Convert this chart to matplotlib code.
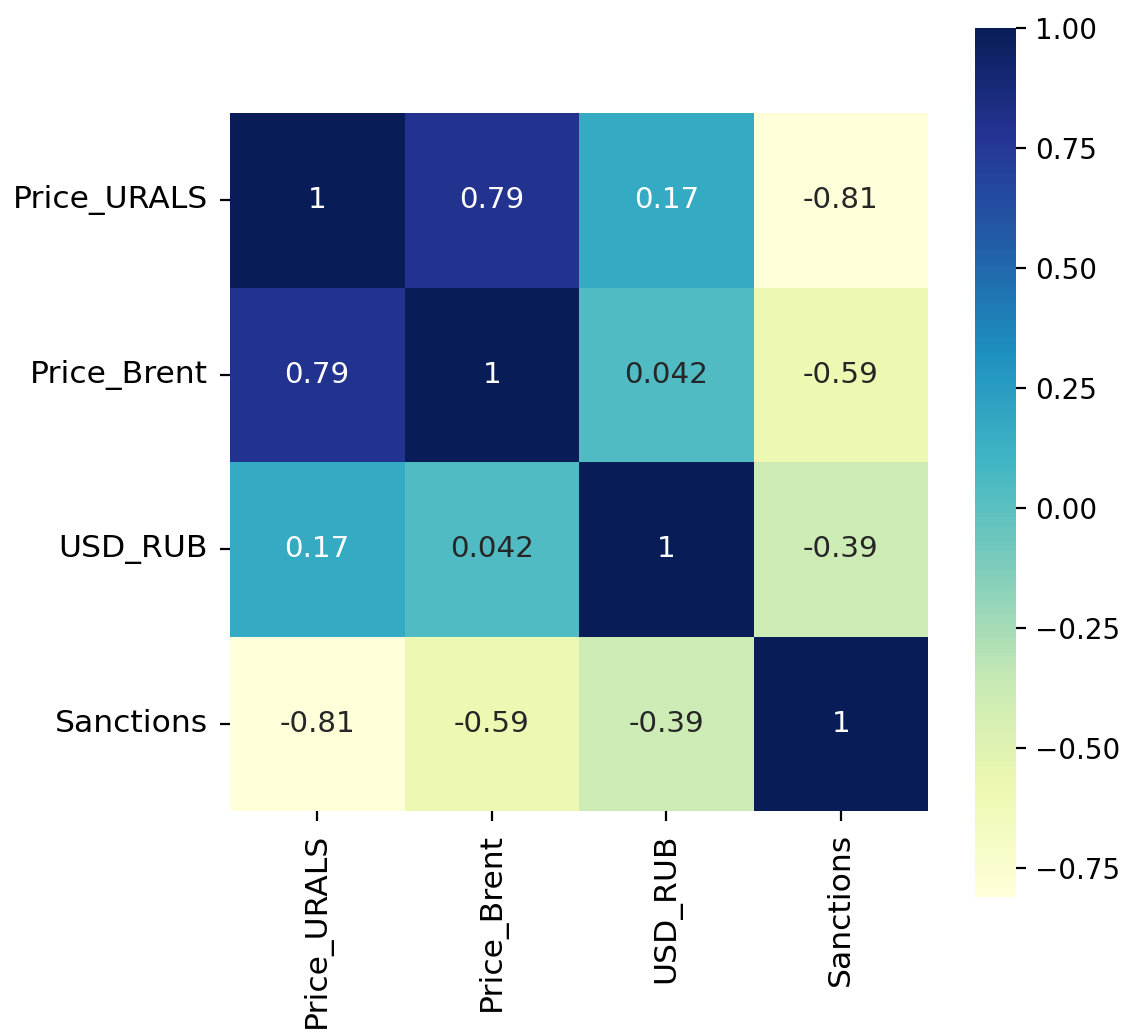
import matplotlib
matplotlib.use("Agg")
import matplotlib.pyplot as plt
import seaborn as sns
import numpy as np
import pandas as pd

labels = ["Price_URALS", "Price_Brent", "USD_RUB", "Sanctions"]
row_urals = [1.0, 0.79, 0.17, -0.81]
row_brent = [0.79, 1.0, 0.042, -0.59]
row_usd = [0.17, 0.042, 1.0, -0.39]
row_sanc = [-0.81, -0.59, -0.39, 1.0]

corr = pd.DataFrame([row_urals, row_brent, row_usd, row_sanc], index=labels, columns=labels)

fig = plt.figure(figsize=(5.68, 5.16), dpi=200)
ax = fig.add_axes([230/1136, 1-812/1032, 698/1136, 700/1032])
cax = fig.add_axes([975/1136, 1-897/1032, 41/1136, 869/1032])
sns.heatmap(corr, annot=True, cmap="YlGnBu", ax=ax, cbar_ax=cax, square=True,
            annot_kws={"fontsize": 10.6})
ax.tick_params(axis="both", labelsize=11.3, pad=4.5)
plt.setp(ax.get_yticklabels(), rotation=0)
plt.setp(ax.get_xticklabels(), rotation=90)
fig.savefig("out.png", dpi=200)
